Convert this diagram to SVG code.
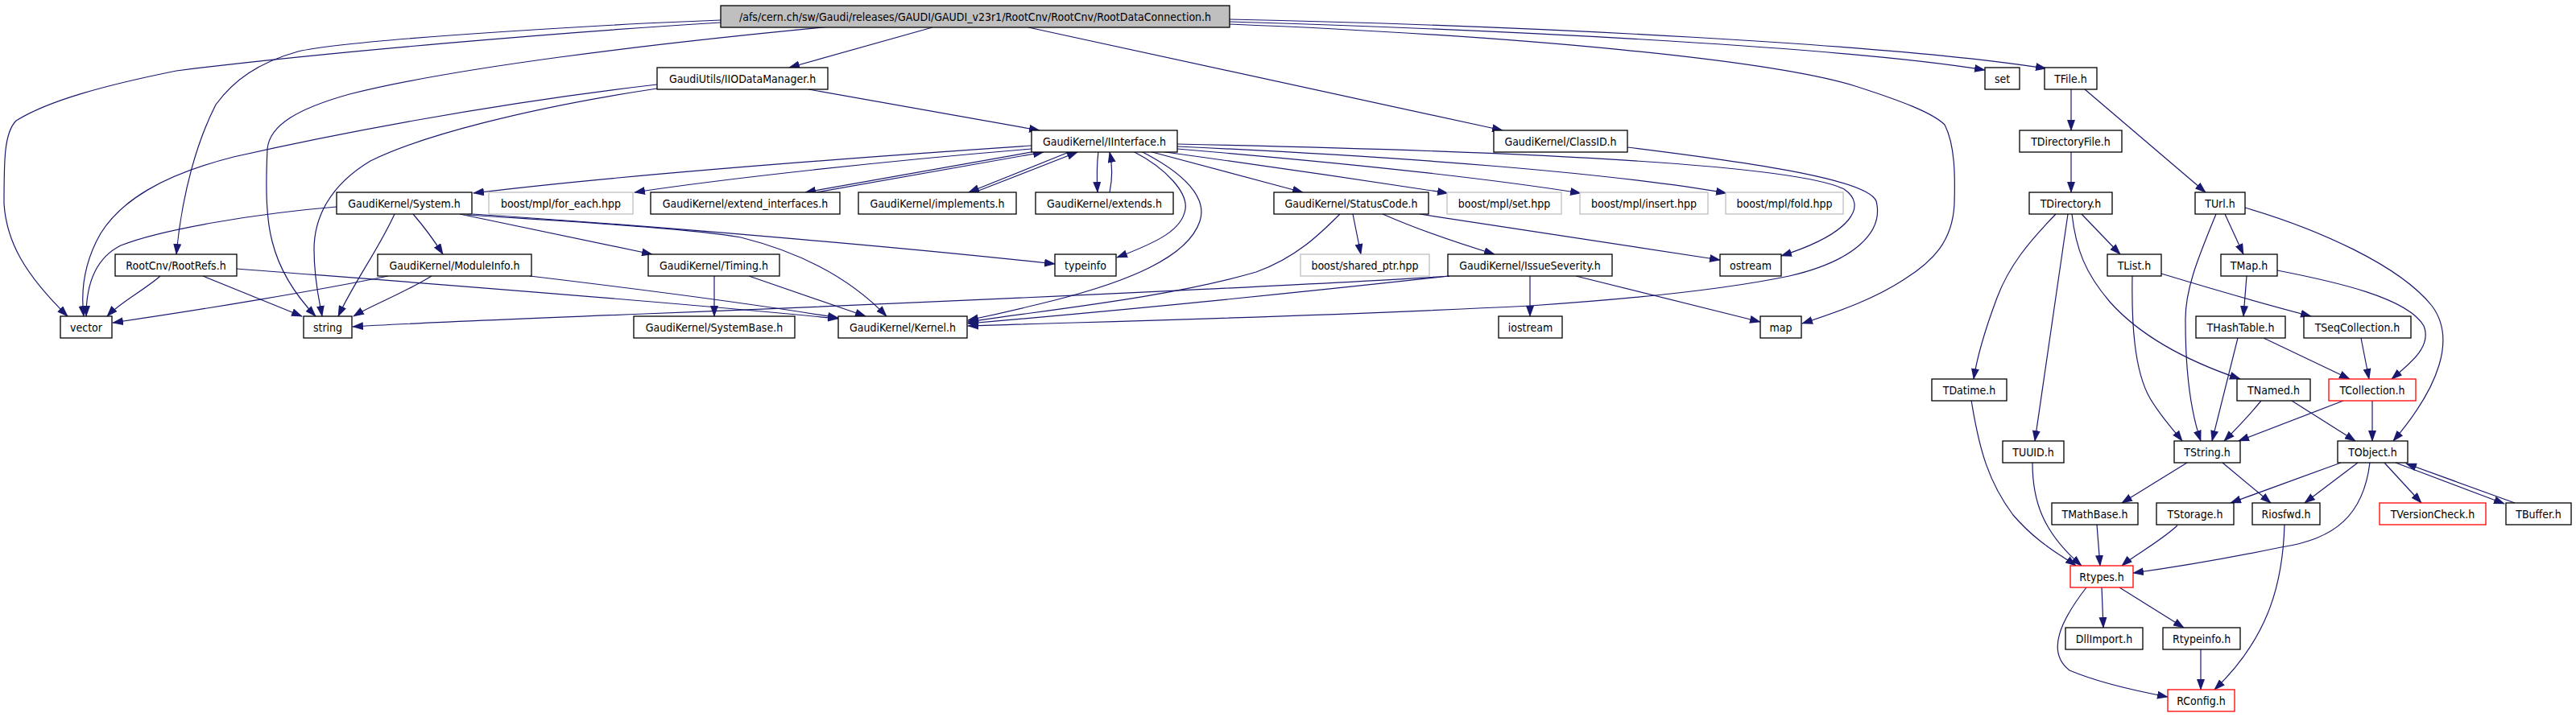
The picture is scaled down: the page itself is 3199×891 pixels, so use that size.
<svg xmlns="http://www.w3.org/2000/svg" width="3199" height="891" viewBox="0 0 3199 891">
<defs>
<marker id="a" markerUnits="userSpaceOnUse" markerWidth="14" markerHeight="10" refX="13" refY="5" orient="auto"><path d="M0,0L14,5L0,10z" fill="#191970"/></marker>
<style>
rect{fill:#fff;stroke:#000;stroke-width:1.3}
.g rect{stroke:#bfbfbf}
.r rect{stroke:#ff0000}
.m rect{fill:#bfbfbf}
text{font-family:"DejaVu Sans Condensed","DejaVu Sans",sans-serif;font-stretch:condensed;font-size:14px;text-anchor:middle;fill:#000}
#edges path{fill:none;stroke:#191970;stroke-width:1.2;marker-end:url(#a)}
</style>
</defs>
<rect x="0" y="0" width="3199" height="891" style="fill:#fff;stroke:none"/>
<g id="edges">
<path d="M1158,34L980,84"/>
<path d="M1277,34L1866,162"/>
<path d="M895,25L800,29C600,40 420,52 370,64C320,78 290,100 268,130C245,175 226,240 219,316"/>
<path d="M895,28C700,40 400,65 219,88C130,106 60,125 20,150C5,165 5,200 5,253C8,300 30,340 84,393"/>
<path d="M1032,33C800,55 560,85 434,117C370,135 335,155 332,185C330,230 330,270 338,300C348,340 370,370 392,393"/>
<path d="M1527,27C1900,38 2300,60 2465,87"/>
<path d="M1527,24C1900,32 2350,55 2541,85"/>
<path d="M1527,30C1900,45 2200,75 2304,107C2360,125 2400,140 2415,155C2428,180 2428,220 2427,253C2425,300 2400,325 2365,347C2330,370 2290,385 2238,402"/>
<path d="M1004,111L1291,162"/>
<path d="M816,105C600,130 400,170 290,195C200,218 150,250 125,290C105,325 100,360 104,393"/>
<path d="M816,110C650,135 520,170 460,200C410,230 390,270 390,310C390,350 397,375 400,393"/>
<path d="M1281,181C1000,200 750,220 588,240"/>
<path d="M1281,185C1100,200 900,222 788,239"/>
<path d="M1292,187L1000,239"/>
<path d="M1008,240L1296,189"/>
<path d="M1330,188L1203,239"/>
<path d="M1210,239L1338,189"/>
<path d="M1364,188C1362,205 1362,222 1363,239"/>
<path d="M1378,239C1382,220 1381,203 1378,189"/>
<path d="M1427,188L1618,239"/>
<path d="M1440,188C1600,210 1700,225 1798,240"/>
<path d="M1462,185C1700,205 1850,222 1963,240"/>
<path d="M1462,182C1750,195 2000,215 2144,240"/>
<path d="M1462,179C1900,188 2230,205 2290,235C2320,255 2300,290 2212,318"/>
<path d="M1407,188C1450,210 1475,240 1472,260C1468,285 1440,300 1387,320"/>
<path d="M1417,188C1470,215 1500,245 1490,275C1475,320 1400,350 1310,373C1270,383 1240,390 1202,398"/>
<path d="M1664,266C1640,290 1610,320 1560,338C1450,370 1300,385 1202,400"/>
<path d="M1680,266L1690,316"/>
<path d="M1717,266C1760,285 1820,305 1856,316"/>
<path d="M1763,266L2136,323"/>
<path d="M2021,183C2200,205 2320,225 2330,250C2340,290 2300,325 2222,343C2150,358 2050,370 1900,380C1600,395 1350,400 1202,405"/>
<path d="M1900,343L1900,393"/>
<path d="M1957,343L2186,400"/>
<path d="M1800,343C1700,350 1300,370 800,390C600,398 500,402 438,406"/>
<path d="M1800,343C1600,365 1400,385 1202,402"/>
<path d="M418,257C320,265 200,285 150,305C120,320 107,350 107,393"/>
<path d="M490,266C470,310 440,350 420,393"/>
<path d="M513,266C525,280 540,300 550,316"/>
<path d="M571,266L810,316"/>
<path d="M587,266C800,280 1100,305 1310,328"/>
<path d="M580,267C700,275 850,283 920,295C1000,315 1060,350 1101,393"/>
<path d="M199,343C180,360 150,375 133,393"/>
<path d="M252,343L375,393"/>
<path d="M294,334C500,350 800,372 1041,396"/>
<path d="M482,343C400,360 250,385 140,401"/>
<path d="M536,343C500,365 460,380 439,393"/>
<path d="M658,343C800,360 950,380 1041,395"/>
<path d="M887,343L887,393"/>
<path d="M930,343L1075,393"/>
<path d="M2572,111L2572,162"/>
<path d="M2589,111L2739,239"/>
<path d="M2572,188L2572,239"/>
<path d="M2553,266C2520,300 2495,330 2480,370C2465,410 2455,445 2451,471"/>
<path d="M2568,266L2527,548"/>
<path d="M2573,266C2578,310 2590,340 2620,375C2660,420 2720,450 2782,471"/>
<path d="M2585,266L2633,316"/>
<path d="M2752,266C2730,320 2713,360 2714,400C2714,460 2720,510 2733,548"/>
<path d="M2763,266L2786,316"/>
<path d="M2788,258C2880,285 2980,330 3020,380C3050,420 3030,480 2972,548"/>
<path d="M2648,343C2647,400 2650,460 2670,495C2685,520 2700,535 2710,548"/>
<path d="M2684,340C2750,360 2820,380 2870,393"/>
<path d="M2790,343L2786,393"/>
<path d="M2828,336C2900,350 2990,370 3010,405C3020,430 2995,450 2970,471"/>
<path d="M2779,420L2747,548"/>
<path d="M2811,420L2918,471"/>
<path d="M2932,420L2942,471"/>
<path d="M2808,498C2790,520 2775,535 2762,548"/>
<path d="M2846,498L2925,548"/>
<path d="M2910,498L2780,548"/>
<path d="M2946,498L2946,548"/>
<path d="M2448,497C2458,560 2470,600 2500,640C2530,675 2560,690 2578,703"/>
<path d="M2524,575C2524,620 2535,660 2585,703"/>
<path d="M2716,575L2635,625"/>
<path d="M2760,575L2820,625"/>
<path d="M2907,575L2770,625"/>
<path d="M2928,575L2862,625"/>
<path d="M2943,575C2935,640 2900,670 2833,680C2760,695 2700,705 2649,712"/>
<path d="M2961,575L3007,625"/>
<path d="M2975,575L3110,626"/>
<path d="M3123,625L2988,576"/>
<path d="M2604,652L2608,703"/>
<path d="M2704,653C2680,675 2650,690 2635,703"/>
<path d="M2610,729L2612,780"/>
<path d="M2632,730L2712,780"/>
<path d="M2591,730C2560,770 2540,810 2570,833C2610,850 2660,860 2692,866"/>
<path d="M2733,807L2733,857"/>
<path d="M2837,652C2835,720 2820,790 2750,857"/>
</g>
<g id="n_main" class="m"><rect x="895" y="7" width="632" height="27"/><text x="1211" y="25.5">/afs/cern.ch/sw/Gaudi/releases/GAUDI/GAUDI_v23r1/RootCnv/RootCnv/RootDataConnection.h</text></g>
<g id="n_iiodm"><rect x="816" y="84" width="212" height="27"/><text x="922" y="102.5">GaudiUtils/IIODataManager.h</text></g>
<g id="n_classid"><rect x="1855" y="162" width="166" height="27"/><text x="1938" y="180.5">GaudiKernel/ClassID.h</text></g>
<g id="n_iinterface"><rect x="1281" y="162" width="181" height="27"/><text x="1371.5" y="180.5">GaudiKernel/IInterface.h</text></g>
<g id="n_set"><rect x="2465" y="84" width="43" height="27"/><text x="2486.5" y="102.5">set</text></g>
<g id="n_tfile"><rect x="2539" y="84" width="65" height="27"/><text x="2571.5" y="102.5">TFile.h</text></g>
<g id="n_tdirfile"><rect x="2508" y="162" width="127" height="27"/><text x="2571.5" y="180.5">TDirectoryFile.h</text></g>
<g id="n_system"><rect x="418" y="239" width="168" height="27"/><text x="502" y="257.5">GaudiKernel/System.h</text></g>
<g id="n_foreach" class="g"><rect x="607" y="239" width="179" height="27"/><text x="696.5" y="257.5">boost/mpl/for_each.hpp</text></g>
<g id="n_extif"><rect x="808" y="239" width="235" height="27"/><text x="925.5" y="257.5">GaudiKernel/extend_interfaces.h</text></g>
<g id="n_impl"><rect x="1066" y="239" width="196" height="27"/><text x="1164" y="257.5">GaudiKernel/implements.h</text></g>
<g id="n_extends"><rect x="1286" y="239" width="171" height="27"/><text x="1371.5" y="257.5">GaudiKernel/extends.h</text></g>
<g id="n_statuscode"><rect x="1582" y="239" width="192" height="27"/><text x="1678" y="257.5">GaudiKernel/StatusCode.h</text></g>
<g id="n_sethpp" class="g"><rect x="1797" y="239" width="142" height="27"/><text x="1868" y="257.5">boost/mpl/set.hpp</text></g>
<g id="n_insert" class="g"><rect x="1962" y="239" width="159" height="27"/><text x="2041.5" y="257.5">boost/mpl/insert.hpp</text></g>
<g id="n_fold" class="g"><rect x="2143" y="239" width="146" height="27"/><text x="2216" y="257.5">boost/mpl/fold.hpp</text></g>
<g id="n_tdir"><rect x="2520" y="239" width="103" height="27"/><text x="2571.5" y="257.5">TDirectory.h</text></g>
<g id="n_turl"><rect x="2726" y="239" width="62" height="27"/><text x="2757" y="257.5">TUrl.h</text></g>
<g id="n_rootrefs"><rect x="143" y="316" width="151" height="27"/><text x="218.5" y="334.5">RootCnv/RootRefs.h</text></g>
<g id="n_moduleinfo"><rect x="469" y="316" width="191" height="27"/><text x="564.5" y="334.5">GaudiKernel/ModuleInfo.h</text></g>
<g id="n_timing"><rect x="805" y="316" width="163" height="27"/><text x="886.5" y="334.5">GaudiKernel/Timing.h</text></g>
<g id="n_typeinfo"><rect x="1310" y="316" width="76" height="27"/><text x="1348" y="334.5">typeinfo</text></g>
<g id="n_sharedptr" class="g"><rect x="1615" y="316" width="160" height="27"/><text x="1695" y="334.5">boost/shared_ptr.hpp</text></g>
<g id="n_issue"><rect x="1798" y="316" width="204" height="27"/><text x="1900" y="334.5">GaudiKernel/IssueSeverity.h</text></g>
<g id="n_ostream"><rect x="2136" y="316" width="76" height="27"/><text x="2174" y="334.5">ostream</text></g>
<g id="n_tlist"><rect x="2617" y="316" width="67" height="27"/><text x="2650.5" y="334.5">TList.h</text></g>
<g id="n_tmap"><rect x="2758" y="316" width="70" height="27"/><text x="2793" y="334.5">TMap.h</text></g>
<g id="n_vector"><rect x="75" y="393" width="64" height="27"/><text x="107" y="411.5">vector</text></g>
<g id="n_string"><rect x="377" y="393" width="60" height="27"/><text x="407" y="411.5">string</text></g>
<g id="n_systembase"><rect x="787" y="393" width="200" height="27"/><text x="887" y="411.5">GaudiKernel/SystemBase.h</text></g>
<g id="n_kernel"><rect x="1041" y="393" width="160" height="27"/><text x="1121" y="411.5">GaudiKernel/Kernel.h</text></g>
<g id="n_iostream"><rect x="1861" y="393" width="79" height="27"/><text x="1900.5" y="411.5">iostream</text></g>
<g id="n_map"><rect x="2186" y="393" width="51" height="27"/><text x="2211.5" y="411.5">map</text></g>
<g id="n_thash"><rect x="2727" y="393" width="111" height="27"/><text x="2782.5" y="411.5">THashTable.h</text></g>
<g id="n_tseq"><rect x="2861" y="393" width="133" height="27"/><text x="2927.5" y="411.5">TSeqCollection.h</text></g>
<g id="n_tdatime"><rect x="2399" y="471" width="93" height="27"/><text x="2445.5" y="489.5">TDatime.h</text></g>
<g id="n_tnamed"><rect x="2778" y="471" width="91" height="27"/><text x="2823.5" y="489.5">TNamed.h</text></g>
<g id="n_tcoll" class="r"><rect x="2892" y="471" width="108" height="27"/><text x="2946" y="489.5">TCollection.h</text></g>
<g id="n_tuuid"><rect x="2487" y="548" width="76" height="27"/><text x="2525" y="566.5">TUUID.h</text></g>
<g id="n_tstring"><rect x="2700" y="548" width="82" height="27"/><text x="2741" y="566.5">TString.h</text></g>
<g id="n_tobject"><rect x="2903" y="548" width="87" height="27"/><text x="2946.5" y="566.5">TObject.h</text></g>
<g id="n_tmathbase"><rect x="2548" y="625" width="107" height="27"/><text x="2601.5" y="643.5">TMathBase.h</text></g>
<g id="n_tstorage"><rect x="2678" y="625" width="96" height="27"/><text x="2726" y="643.5">TStorage.h</text></g>
<g id="n_riosfwd"><rect x="2797" y="625" width="84" height="27"/><text x="2839" y="643.5">Riosfwd.h</text></g>
<g id="n_tversion" class="r"><rect x="2955" y="625" width="132" height="27"/><text x="3021" y="643.5">TVersionCheck.h</text></g>
<g id="n_tbuffer"><rect x="3112" y="625" width="81" height="27"/><text x="3152.5" y="643.5">TBuffer.h</text></g>
<g id="n_rtypes" class="r"><rect x="2571" y="703" width="78" height="27"/><text x="2610" y="721.5">Rtypes.h</text></g>
<g id="n_dllimport"><rect x="2565" y="780" width="96" height="27"/><text x="2613" y="798.5">DllImport.h</text></g>
<g id="n_rtypeinfo"><rect x="2686" y="780" width="96" height="27"/><text x="2734" y="798.5">Rtypeinfo.h</text></g>
<g id="n_rconfig" class="r"><rect x="2692" y="857" width="83" height="27"/><text x="2733.5" y="875.5">RConfig.h</text></g>
</svg>
